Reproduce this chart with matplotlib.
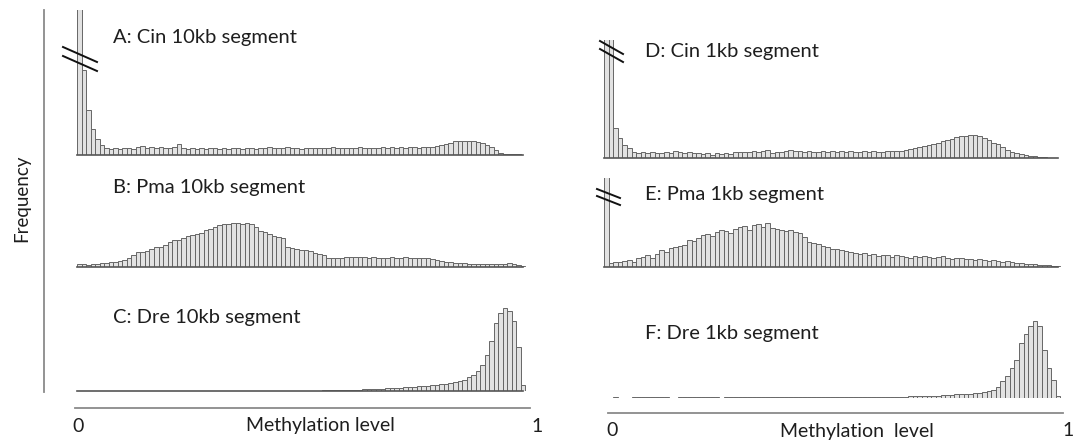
import numpy as np
import matplotlib
matplotlib.use("Agg")
import matplotlib.pyplot as plt
from matplotlib.lines import Line2D

nan = np.nan

# methylation level bins (100 bins of 0.01 between 0 and 1)
bin_left = np.arange(100) / 100.0

# frequency per bin (arbitrary units)
cin_10kb = [300, 85, 45, 26, 16, 10, 7, 6, 7, 6,
            7, 7, 6, 8, 9, 7, 8, 7, 8, 7,
            7, 8, 11, 7, 6, 7, 6, 7, 6, 7,
            7, 6, 7, 6, 7, 7, 6, 7, 7, 6,
            7, 7, 8, 7, 7, 7, 8, 7, 7, 6,
            7, 7, 7, 7, 7, 7, 8, 7, 7, 7,
            7, 7, 8, 7, 7, 7, 7, 8, 7, 8,
            7, 8, 7, 8, 8, 7, 8, 8, 8, 9,
            10, 11, 12, 14, 14, 14, 14, 14, 13, 12,
            10, 8, 5, 2, 1, 1, 1, 1, 0.5, nan]

pma_10kb = [3, 3, 2, 3, 3, 4, 4, 5, 5, 6,
            7, 9, 12, 15, 15, 16, 18, 20, 20, 22,
            25, 27, 27, 29, 31, 32, 33, 34, 37, 38,
            40, 42, 43, 43, 44, 44, 43, 44, 43, 40,
            36, 35, 33, 31, 30, 29, 20, 19, 18, 17,
            17, 16, 14, 13, 12, 9, 9, 9, 9, 10,
            10, 10, 10, 10, 9, 10, 9, 9, 9, 10,
            9, 9, 10, 9, 9, 9, 9, 9, 8, 7,
            6, 5, 5, 4, 4, 4, 3, 3, 3, 3,
            3, 3, 3, 3, 3, 4, 3, 2, 1, nan]

dre_10kb = [0, 0, 0, 0, 0, 0, 0, 0, 0, 0,
            0, 0, 0, 0, 0, 0, 0, 0, 0, 0,
            0, 0, 0, 0, 0.5, 0, 0, 0, 0, 0,
            0, 0, 0, 0, 0.5, 0, 0, 0, 0.5, 0,
            0.5, 0.5, 0.5, 0.5, 0.5, 0.5, 0.5, 0.5, 0.5, 0.5,
            0.5, 0.5, 0.5, 0.5, 0.7, 0.8, 0.8, 1, 1, 1,
            1.2, 1.3, 1.5, 1.6, 1.8, 2, 2.2, 2.5, 2.7, 3,
            3, 3.3, 3.6, 4, 4.5, 5, 5, 5.5, 6, 6.5,
            7, 7.5, 8, 9, 10, 11, 14, 16, 20, 26,
            36, 50, 68, 78, 83, 80, 70, 44, 6, nan]

cin_1kb = [300, 300, 30, 20, 13, 10, 6, 5, 6, 5,
           6, 5, 5, 6, 5, 7, 6, 5, 6, 5,
           5, 4, 5, 3, 5, 4, 5, 4, 6, 6,
           6, 6, 7, 6, 7, 8, 5, 6, 6, 7,
           8, 7, 7, 6, 7, 6, 6, 7, 6, 7,
           6, 7, 6, 7, 6, 6, 7, 6, 7, 6,
           6, 7, 7, 7, 7, 8, 9, 10, 11, 12,
           13, 14, 15, 17, 18, 19, 21, 22, 22, 23,
           23, 22, 20, 18, 15, 14, 11, 8, 6, 5,
           4, 3, 2, 2, 1, 1, 0.5, 0.5, 0, nan]

pma_1kb = [300, 4, 5, 5, 6, 7, 5, 9, 10, 12,
           9, 13, 17, 15, 19, 20, 21, 22, 27, 26,
           29, 32, 33, 31, 35, 37, 36, 34, 38, 40,
           41, 37, 42, 43, 40, 44, 39, 38, 37, 36,
           37, 35, 34, 30, 25, 24, 23, 21, 20, 18,
           18, 17, 16, 15, 14, 13, 14, 12, 13, 11,
           12, 12, 10, 12, 11, 10, 9, 11, 10, 11,
           10, 9, 10, 11, 9, 8, 9, 9, 8, 8,
           7, 8, 7, 6, 7, 6, 5, 6, 5, 4,
           4, 3, 3, 3, 2, 2, 2, 1, 1, nan]

dre_1kb = [nan, nan, 1, nan, nan, nan, 1, 1, 1, 1,
           1, 1, 1, 1, nan, nan, 1, 1, 1, 1,
           1, 1, 1, 1, 1, nan, 1, 1, 1, 1,
           1, 1, 1, 1, 1, 1, 1, 1, 1, 1,
           1, 1, 1, 1, 1, 1, 1, 1, 1, 1,
           1, 1, 1, 1, 1, 1, 1, 1, 1, 1,
           1, 1, 1, 1.2, 1.3, 1.5, 1.6, 1.7, 1.8, 2,
           2, 2.2, 2.5, 2.8, 3.2, 3.5, 3.8, 4, 4.2, 4.5,
           5, 5.5, 6, 7, 8, 11, 17, 22, 30, 38,
           55, 64, 72, 77, 72, 48, 30, 18, 2, nan]

titles = ["A: Cin 10kb segment", "B: Pma 10kb segment", "C: Dre 10kb segment",
          "D: Cin 1kb segment", "E: Pma 1kb segment", "F: Dre 1kb segment"]

W, H = 1078, 447
plt.rcParams['font.family'] = ['Lato', 'DejaVu Sans']
fig = plt.figure(figsize=(W / 100, H / 100), dpi=100)


def px_axes(x0, x1, base, top):
    # axes placed with pixel coordinates (y measured from top of image)
    return fig.add_axes([x0 / W, 1 - base / H, (x1 - x0) / W, (base - top) / H])


def fig_line(xs, ys, **kw):
    fig.add_artist(Line2D([x / W for x in xs], [1 - y / H for y in ys], **kw))


# (series, x0, x1, baseline, ymax, draw baseline) for each panel
panels = [(cin_10kb, 77, 530, 155, 145, True),
          (pma_10kb, 77, 530, 267, 55, True),
          (dre_10kb, 77, 530, 391, 90, True),
          (cin_1kb, 604, 1065, 158, 118, True),
          (pma_1kb, 604, 1065, 267, 89, True),
          (dre_1kb, 604, 1065, 398, 85, False)]

for data, x0, x1, base, ymax, baseline in panels:
    ax = px_axes(x0, x1, base, base - ymax)
    ax.bar(bin_left, data, width=0.01, align='edge', color='#e2e2e2',
           edgecolor='#666666', linewidth=0.7)
    if baseline:
        ax.axhline(0, 0, 0.985, color='#555555', lw=1.2, clip_on=False)
    ax.set_xlim(0, 1)
    ax.set_ylim(0, ymax)
    ax.axis('off')
    ax.patch.set_alpha(0)

# panel titles
title_pos = [(113, 37), (113, 187), (113, 317), (645, 52), (645, 195), (645, 333)]
for t, (x, y) in zip(titles, title_pos):
    fig.text(x / W, 1 - y / H, t, fontsize=14.5, ha='left', va='center', color='#1e1e1e')

# axis break marks
for (xa, xb, ya, yb, gap) in [(63, 97, 47, 62, 9), (600, 623, 41, 54, 8), (597, 620, 189, 198, 7)]:
    fig_line([xa, xb], [ya, yb], color='#111111', lw=1.4)
    fig_line([xa, xb], [ya + gap, yb + gap], color='#111111', lw=1.4)

# frequency axis and methylation axes
fig_line([44, 44], [10, 392], color='#8a8a8a', lw=1.3)
fig.text(22 / W, 1 - 198 / H, "Frequency", rotation=90, fontsize=13.5,
         ha='center', va='center', color='#1e1e1e')

fig_line([75, 530], [408, 408], color='#8a8a8a', lw=1.3)
fig_line([608, 1063], [413, 413], color='#8a8a8a', lw=1.3)

for x, y, s in [(78, 426, "0"), (320, 426, "Methylation level"), (537, 426, "1"),
                (612, 431, "0"), (857, 431, "Methylation  level"), (1068, 431, "1")]:
    fig.text(x / W, 1 - y / H, s, fontsize=14, ha='center', va='center', color='#1e1e1e')

fig.savefig("out.png", dpi=100)
